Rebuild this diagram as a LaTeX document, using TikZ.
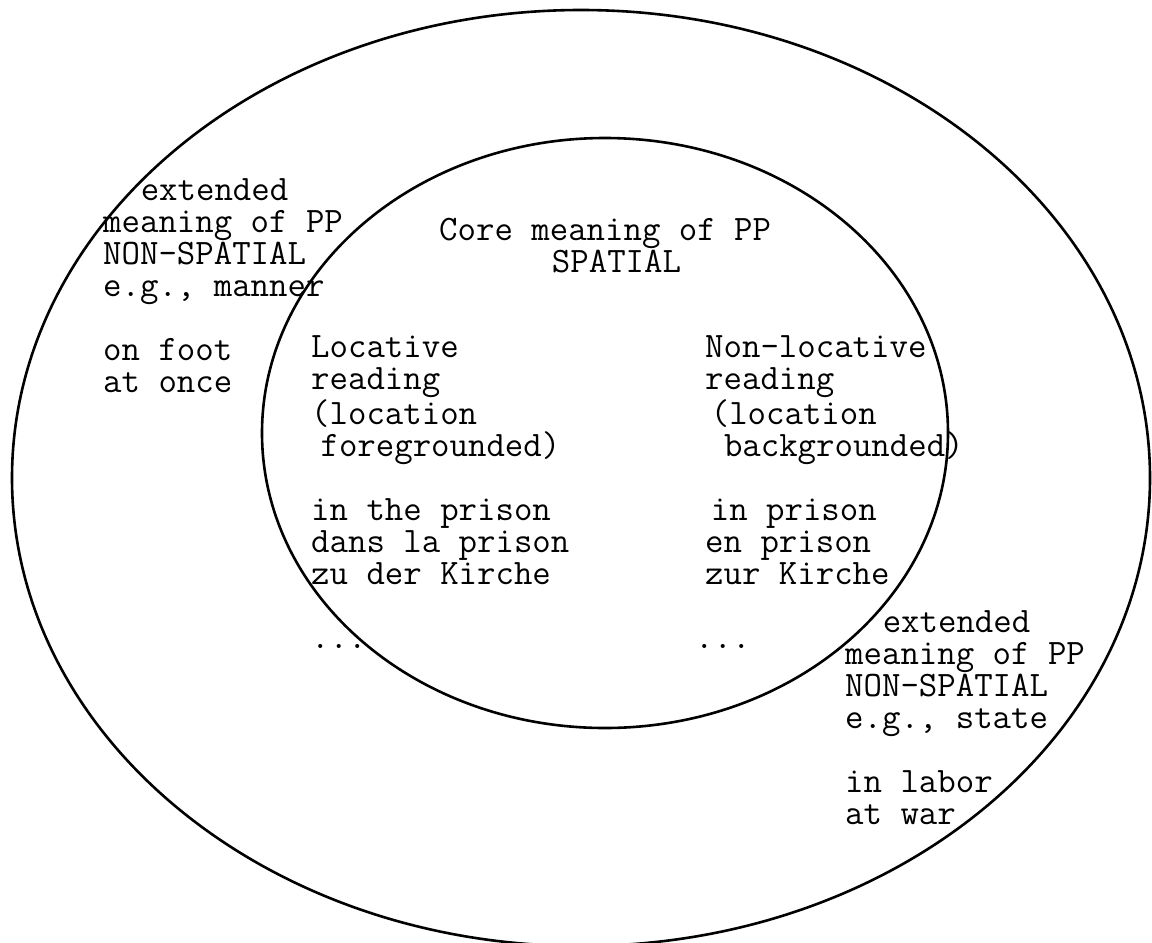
\documentclass[tikz,border=0pt]{standalone}
\usepackage{fontspec}
\newcommand{\ind}[1]{\hspace*{#1\dimexpr0.525em\relax}}
\tikzset{
  ring/.style={draw, line width=2.6pt},
  lbl/.style={font=\ttfamily\fontsize{35.8}{32}\selectfont, align=left, anchor=base west, inner sep=0pt}
}
\begin{document}
\begin{tikzpicture}[x=1pt,y=-1pt]
\useasboundingbox (0,0) rectangle (1152,943);
\clip (0,0) rectangle (1152,943);
\draw[ring] (581,478) ellipse [x radius=569pt, y radius=468pt];
\draw[ring] (605,433) ellipse [x radius=343pt, y radius=295pt];
\node[lbl] (lefttext) at (103,392) {\ind{2}extended\\meaning of PP\\NON-SPATIAL\\e.g., manner\\[32pt]on foot\\at once};
\node[lbl] (core) at (439,272) {Core meaning of PP\\\ind{6}SPATIAL};
\node[lbl] (loc) at (311,648) {Locative\\reading\\(location\\\ind{0.5}foregrounded)\\[32pt]in the prison\\dans la prison\\zu der Kirche\\[32pt]...};
\node[lbl] (nonloc) at (705,648) {Non-locative\\reading\\\ind{0.3}(location\\\ind{1}backgrounded)\\[32pt]\ind{0.3}in prison\\en prison\\zur Kirche\\[32pt]\hspace*{-10pt}...};
\node[lbl] (righttext) at (845,824) {\ind{2}extended\\meaning of PP\\NON-SPATIAL\\e.g., state\\[32pt]in labor\\at war};
\end{tikzpicture}
\end{document}
